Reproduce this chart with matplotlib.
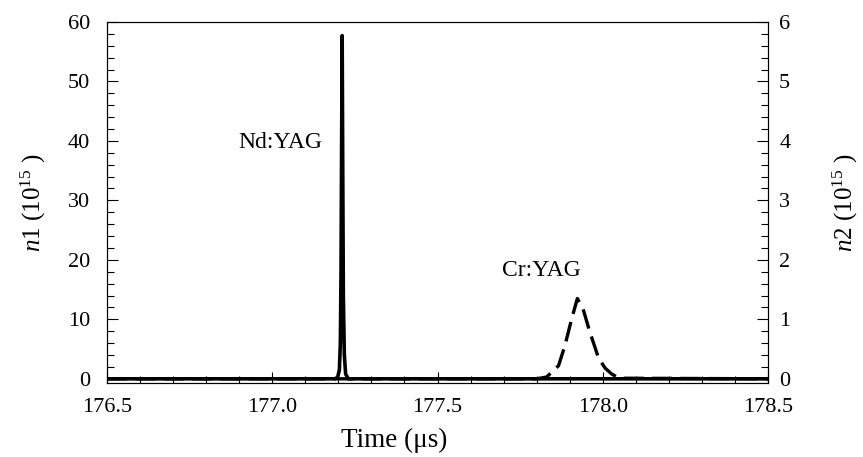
import matplotlib
matplotlib.use('Agg')
import matplotlib.pyplot as plt
from matplotlib.ticker import MultipleLocator

plt.rcParams['font.family'] = ['Liberation Serif', 'DejaVu Serif']
plt.rcParams['mathtext.fontset'] = 'custom'
plt.rcParams['mathtext.rm'] = 'Liberation Serif'
plt.rcParams['mathtext.it'] = 'Liberation Serif:italic'

# Nd:YAG population n1 (10^15), left axis
t_nd = [176.5, 177.19, 177.198, 177.203, 177.206, 177.208, 177.210, 177.2115,
        177.213, 177.215, 177.218, 177.222, 177.23, 178.5]
n1 = [0, 0, 0.3, 1.5, 6, 18, 42, 57.7, 38, 14, 4, 0.8, 0, 0]

# Cr:YAG population n2 (10^15), right axis
t_cr = [176.5, 177.80, 177.83, 177.866, 177.885, 177.905, 177.923, 177.94,
        177.96, 177.987, 178.007, 178.027, 178.05, 178.5]
n2 = [0, 0, 0.03, 0.22, 0.55, 0.99, 1.35, 1.18, 0.80, 0.35, 0.18, 0.08, 0.01, 0]

fig = plt.figure(figsize=(8.63, 4.57), dpi=100)
ax1 = fig.add_axes([0.124, 0.162, 0.766, 0.79])
ax2 = ax1.twinx()

ax2.plot(t_cr, n2, color='black', linewidth=2.4, dashes=(6, 2.5))
ax1.plot(t_nd, n1, color='black', linewidth=2.6)
ax1.set_zorder(ax2.get_zorder() + 1)
ax1.patch.set_visible(False)

ax1.set_xlim(176.5, 178.5)
ax1.set_ylim(-0.7, 60)
ax2.set_ylim(-0.07, 6)

ax1.xaxis.set_major_locator(MultipleLocator(0.5))
ax1.xaxis.set_minor_locator(MultipleLocator(0.1))
ax1.yaxis.set_major_locator(MultipleLocator(10))
ax1.yaxis.set_minor_locator(MultipleLocator(2))
ax2.yaxis.set_major_locator(MultipleLocator(1))
ax2.yaxis.set_minor_locator(MultipleLocator(0.2))
ax1.xaxis.set_major_formatter(plt.FormatStrFormatter('%.1f'))

for ax in (ax1, ax2):
    ax.tick_params(which='both', direction='in', labelsize=16, top=False)
    ax.tick_params(which='major', length=8, width=0.8)
    ax.tick_params(which='minor', length=5, width=0.8)
    for s in ax.spines.values():
        s.set_linewidth(0.8)
ax1.tick_params(axis='y', which='both', right=False, pad=12)
ax1.tick_params(axis='x', pad=11)
ax2.tick_params(axis='y', which='both', left=False, pad=8)

ax1.set_xlabel('Time (\u03bcs)', fontsize=19.5)
ax1.xaxis.set_label_coords(0.434, -0.125)
ax1.set_ylabel(r'$\mathit{n1}$ (10$^{15}$ )', fontsize=18)
ax1.yaxis.set_label_coords(-0.09, 0.5)
ax2.set_ylabel(r'$\mathit{n2}$ (10$^{15}$ )', fontsize=18)
ax2.yaxis.set_label_coords(1.095, 0.5)

ax1.text(177.025, 39.8, 'Nd:YAG', fontsize=17, ha='center', va='center')
ax1.text(177.815, 18.2, 'Cr:YAG', fontsize=17, ha='center', va='center')

fig.savefig('out.png', dpi=100)
